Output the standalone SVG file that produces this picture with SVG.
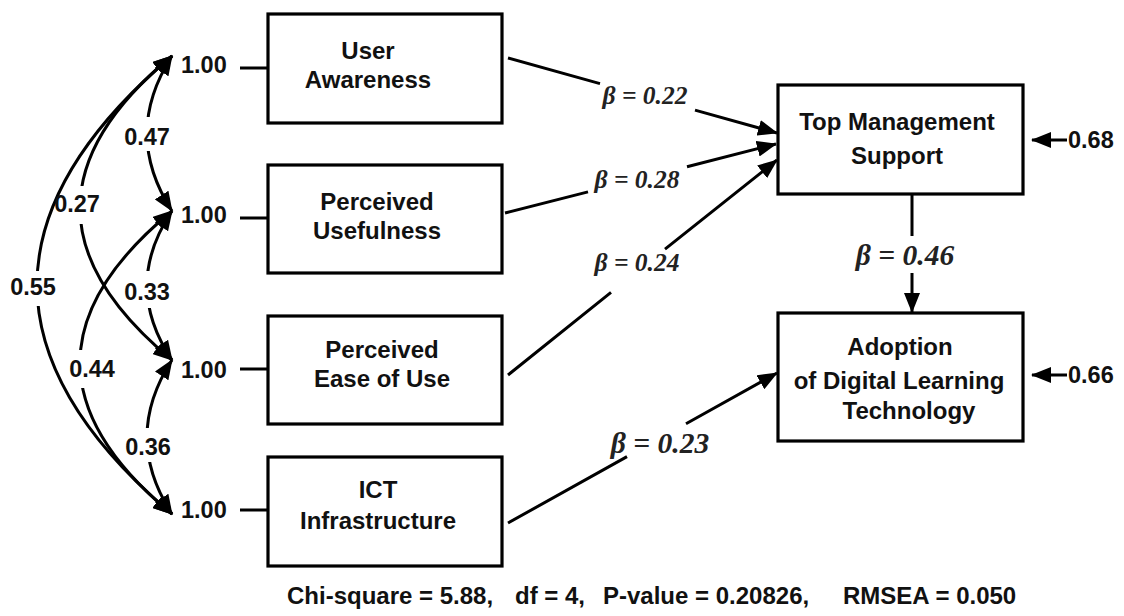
<svg xmlns="http://www.w3.org/2000/svg" width="1124" height="616" viewBox="0 0 1124 616">
  <style>
    .box { fill: #fff; stroke: #000; stroke-width: 3.2; }
    .lbl { font-family: "Liberation Sans", Arial, sans-serif; font-weight: bold; font-size: 24px; fill: #111; text-anchor: middle; }
    .num { font-family: "Liberation Sans", Arial, sans-serif; font-weight: bold; font-size: 23.5px; fill: #111; }
    .beta { font-family: "Liberation Serif", "Times New Roman", serif; font-style: italic; font-weight: bold; font-size: 25.5px; fill: #222; text-anchor: middle; }
    .beta.big { font-size: 29.5px; }
    .fit { font-family: "Liberation Sans", Arial, sans-serif; font-weight: bold; font-size: 24px; fill: #111; }
    .ln { fill: none; stroke: #000; stroke-width: 3; }
    .gap { fill: #fff; stroke: none; }
  </style>
  <defs>
    <marker id="arr" viewBox="0 0 20 16" refX="19" refY="8" markerUnits="userSpaceOnUse" markerWidth="20" markerHeight="16" orient="auto-start-reverse">
      <path d="M0,0 L20,8 L0,16 z" fill="#000"/>
    </marker>
  </defs>

  <rect width="1124" height="616" fill="#fff"/>

  <!-- connectors -->
  <g id="connectors">
    <!-- covariances between exogenous variables -->
    <path class="ln" d="M172,56 Q122,133.5 172,211" marker-start="url(#arr)" marker-end="url(#arr)"/>
    <path class="ln" d="M172,211 Q122,285.5 172,360" marker-start="url(#arr)" marker-end="url(#arr)"/>
    <path class="ln" d="M172,360 Q122,437 172,514" marker-start="url(#arr)" marker-end="url(#arr)"/>
    <path class="ln" d="M172,56 Q-12,208 172,360" marker-start="url(#arr)" marker-end="url(#arr)"/>
    <path class="ln" d="M172,211 Q-12,362.5 172,514" marker-start="url(#arr)" marker-end="url(#arr)"/>
    <path class="ln" d="M172,56 Q-98,285 172,514" marker-start="url(#arr)" marker-end="url(#arr)"/>

    <!-- label gaps on the covariance curves -->
    <rect class="gap" x="130" y="117" width="36" height="34"/>
    <rect class="gap" x="130" y="271" width="36" height="37"/>
    <rect class="gap" x="130" y="428" width="36" height="34"/>
    <rect class="gap" x="68" y="186" width="28" height="38"/>
    <rect class="gap" x="66" y="350" width="34" height="38"/>
    <rect class="gap" x="14" y="271" width="42" height="35"/>

    <!-- variance ticks -->
    <path class="ln" d="M240,68 H268 M240,218 H268 M240,369 H268 M240,510 H268"/>

    <!-- structural paths -->
    <path class="ln" d="M508,58 L600,83.6 M695,110.1 L777,133" marker-end="url(#arr)"/>
    <path class="ln" d="M505,213 L588,191.9 M687,166.8 L776,144" marker-end="url(#arr)"/>
    <path class="ln" d="M508,375 L611,292.4 M665,249.1 L777,160" marker-end="url(#arr)"/>
    <path class="ln" d="M508,523 L627,456.6 M686,423.7 L777,373" marker-end="url(#arr)"/>
    <path class="ln" d="M912,194 V236 M912,273 V312" marker-end="url(#arr)"/>

    <!-- residual arrows -->
    <path class="ln" d="M1067,140 H1032" marker-end="url(#arr)"/>
    <path class="ln" d="M1067,375 H1032" marker-end="url(#arr)"/>
  </g>

  <!-- covariance and variance labels -->
  <g id="cov-labels">
    <text class="num" x="147" y="145" text-anchor="middle">0.47</text>
    <text class="num" x="77" y="212" text-anchor="middle">0.27</text>
    <text class="num" x="33" y="295" text-anchor="middle">0.55</text>
    <text class="num" x="147" y="300" text-anchor="middle">0.33</text>
    <text class="num" x="92" y="377" text-anchor="middle">0.44</text>
    <text class="num" x="148" y="455" text-anchor="middle">0.36</text>
    <text class="num" x="181" y="73">1.00</text>
    <text class="num" x="181" y="223">1.00</text>
    <text class="num" x="181" y="378">1.00</text>
    <text class="num" x="181" y="518">1.00</text>
  </g>

  <!-- path coefficients -->
  <g id="beta-labels">
    <text class="beta" x="645" y="104">β = 0.22</text>
    <text class="beta" x="637" y="188">β = 0.28</text>
    <text class="beta" x="637" y="271">β = 0.24</text>
    <text class="beta big" x="660" y="453">β = 0.23</text>
    <text class="beta big" x="905" y="265">β = 0.46</text>
  </g>

  <g id="user-awareness">
    <rect class="box" x="268" y="14" width="234" height="109"/>
    <text class="lbl" x="368" y="59">User</text>
    <text class="lbl" x="368" y="88">Awareness</text>
  </g>

  <g id="perceived-usefulness">
    <rect class="box" x="268" y="165" width="234" height="108"/>
    <text class="lbl" x="377" y="210">Perceived</text>
    <text class="lbl" x="377" y="239">Usefulness</text>
  </g>

  <g id="perceived-ease-of-use">
    <rect class="box" x="268" y="316" width="234" height="108"/>
    <text class="lbl" x="382" y="358">Perceived</text>
    <text class="lbl" x="382" y="387">Ease of Use</text>
  </g>

  <g id="ict-infrastructure">
    <rect class="box" x="268" y="457" width="234" height="109"/>
    <text class="lbl" x="378" y="498">ICT</text>
    <text class="lbl" x="378" y="529">Infrastructure</text>
  </g>

  <g id="top-management-support">
    <rect class="box" x="778" y="85" width="245" height="109"/>
    <text class="lbl" x="897" y="130">Top Management</text>
    <text class="lbl" x="897" y="164">Support</text>
    <text class="num" x="1068" y="148">0.68</text>
  </g>

  <g id="adoption-dlt">
    <rect class="box" x="778" y="313" width="245" height="128"/>
    <text class="lbl" x="900" y="355">Adoption</text>
    <text class="lbl" x="899" y="389">of Digital Learning</text>
    <text class="lbl" x="909" y="419">Technology</text>
    <text class="num" x="1068" y="383">0.66</text>
  </g>

  <!-- model fit summary -->
  <g id="fit-indices">
    <text class="fit" x="287" y="604">Chi-square = 5.88,</text>
    <text class="fit" x="515" y="604">df = 4,</text>
    <text class="fit" x="603" y="604">P-value = 0.20826,</text>
    <text class="fit" x="843" y="604">RMSEA = 0.050</text>
  </g>
</svg>
